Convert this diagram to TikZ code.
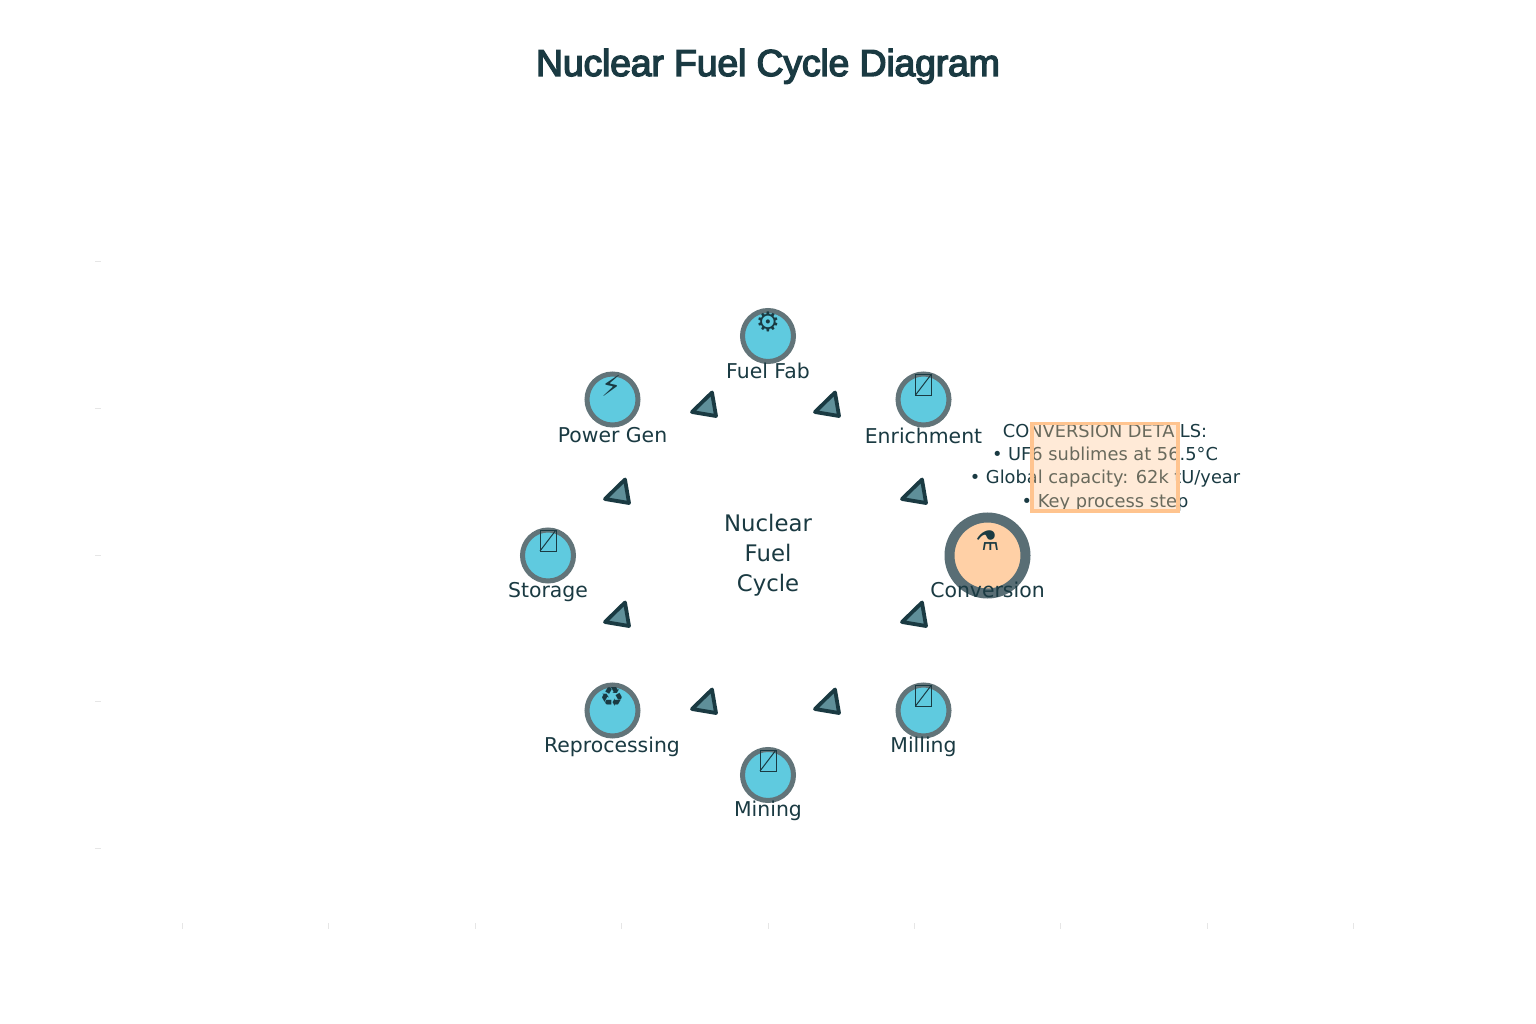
\documentclass[tikz,border=0pt]{standalone}
\usepackage{fontspec}
\setmainfont{DejaVu Sans}
\newfontfamily\titlefont[FakeBold=3.6,LetterSpace=-0.6]{Liberation Sans}
\definecolor{ink}{HTML}{1A3A42}
\definecolor{ring}{HTML}{627479}
\definecolor{ringhot}{HTML}{596E75}
\definecolor{cyanfill}{HTML}{5FCADF}
\definecolor{peach}{HTML}{FFD0A6}
\definecolor{boxline}{HTML}{FFC48F}
\definecolor{trifill}{HTML}{5F8F99}
\definecolor{tickc}{HTML}{E6E6E6}
\tikzset{
  x=1pt,y=-1pt,
  stagenode/.style={circle,draw=ring,line width=5pt,fill=cyanfill,minimum size=51pt,inner sep=0pt},
  hotnode/.style={circle,draw=ringhot,line width=10pt,fill=peach,minimum size=76pt,inner sep=0pt},
  stagelabel/.style={text=ink,font=\fontsize{20.4}{24}\selectfont,inner sep=0pt},
  iconglyph/.style={text=ink,font=\fontsize{27}{30}\selectfont,inner sep=0pt},
  tofu/.style={draw=ink,line width=1pt},
  tri/.style={draw=ink,fill=trifill,line width=3.8pt,line join=round},
  tickmark/.style={draw=tickc,line width=1pt},
}
\newcommand{\arrowtri}[2]{%
  \draw[tri] (712+#1,392.5+#2) -- (692+#1,412+#2) -- (716+#1,416+#2) -- cycle;}
\newcommand{\tofuicon}[2]{%
  \draw[tofu] (#1-8,#2-11) rectangle (#1+8,#2+10);
  \draw[tofu] (#1-8,#2+10) -- (#1+8,#2-11);}
\begin{document}
\begin{tikzpicture}
\useasboundingbox (0,0) rectangle (1536,1024);
\fill[white] (0,0) rectangle (1536,1024);
\foreach \xx in {182,328,475,621,768,914,1060,1207,1353}
  \draw[tickmark] (\xx,923) -- (\xx,929);
\foreach \yy in {262,408,555,701,848}
  \draw[tickmark] (95,\yy) -- (101,\yy);
\node[anchor=base,text=ink,font=\titlefont\fontsize{37.5}{40}\selectfont,inner sep=0pt] (title) at (768,76) {Nuclear Fuel Cycle Diagram};
\arrowtri{0}{0}
\arrowtri{123}{0}
\arrowtri{-87}{87}
\arrowtri{210}{87}
\arrowtri{-87}{210}
\arrowtri{210}{210}
\arrowtri{0}{297}
\arrowtri{123}{297}
\node[stagenode] (fuelfab) at (768,336) {};
\node[stagenode] (powergen) at (612.5,399.5) {};
\node[stagenode] (enrichment) at (923.5,399.5) {};
\node[stagenode] (storage) at (548,555.5) {};
\node[hotnode] (conversion) at (987.5,555.5) {};
\node[stagenode] (reprocessing) at (612.5,710.5) {};
\node[stagenode] (milling) at (923.5,710.5) {};
\node[stagenode] (mining) at (768,775) {};
\node[iconglyph] (icongear) at (768,322) {⚙};
\node[iconglyph,font=\fontsize{29}{30}\selectfont] (iconbolt) at (612,385.5) {⚡};
\node[iconglyph] (iconrecycle) at (612,696.5) {♻};
\node[iconglyph] (iconflask) at (987.5,541) {⚗};
\tofuicon{923.5}{385}
\tofuicon{548}{541}
\tofuicon{923.5}{696}
\tofuicon{768}{761}
\node[stagelabel] (lfuel) at (768,370.5) {Fuel Fab};
\node[stagelabel] (lpower) at (612.5,435.5) {Power Gen};
\node[stagelabel] (lenrich) at (923.5,435.5) {Enrichment};
\node[stagelabel] (lstorage) at (548,592) {Storage};
\node[stagelabel] (lconv) at (987.5,590) {Conversion};
\node[stagelabel] (lrepro) at (612,746.5) {Reprocessing};
\node[stagelabel] (lmill) at (923.5,746.5) {Milling};
\node[stagelabel] (lmine) at (768,810.5) {Mining};
\node[text=ink,font=\fontsize{22.8}{30}\selectfont,align=center,inner sep=0pt] (centre) at (768,555) {Nuclear\\Fuel\\Cycle};
\node[text=ink,font=\fontsize{17.8}{23.2}\selectfont,align=center,inner sep=0pt] (details) at (1105,467.5) {CONVERSION DETAILS:\\• UF6 sublimes at 56.5°C\\• Global capacity: 62k tU/year\\• Key process step};
\draw[draw=boxline,line width=3.6pt,fill=boxline,fill opacity=0.35] (1031.7,423.5) rectangle (1178,511);
\end{tikzpicture}
\end{document}
